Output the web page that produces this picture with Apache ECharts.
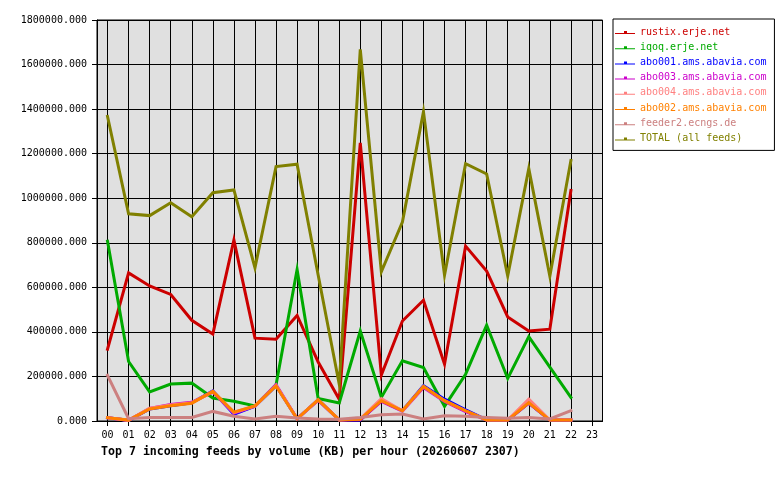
<!DOCTYPE html>
<html>
<head>
<meta charset="utf-8">
<script src="https://cdn.jsdelivr.net/npm/echarts@6/dist/echarts.min.js"></script>
<style>html,body{margin:0;padding:0;background:#fff}#c{width:780px;height:480px}</style>
</head>
<body>
<div id="c"></div>
<script>
const hours = ['00','01','02','03','04','05','06','07','08','09','10','11','12','13','14','15','16','17','18','19','20','21','22','23'];
const feedNames = ['rustix.erje.net','iqoq.erje.net','abo001.ams.abavia.com','abo003.ams.abavia.com','abo004.ams.abavia.com','abo002.ams.abavia.com','feeder2.ecngs.de','TOTAL (all feeds)'];
const rustix  = [322000,665000,606000,568000,452000,390000,812000,372000,367000,474000,265000,98000,1248000,206000,449000,542000,255000,785000,673000,467000,404000,412000,1035000];
const iqoq    = [807000,267000,131000,166000,170000,103000,89000,68000,162000,680000,101000,81000,404000,106000,270000,240000,66000,210000,430000,191000,379000,242000,106000];
const abo001  = [15000,3000,54000,68000,82000,135000,30000,66000,158000,10000,95000,5000,5000,91000,46000,158000,98000,50000,5000,4000,80000,4000,4000];
const abo003  = [15000,3000,56000,74000,84000,130000,35000,66000,163000,10000,93000,5000,6000,88000,44000,150000,88000,42000,5000,4000,80000,4000,4000];
const abo004  = [15000,3000,58000,72000,82000,133000,38000,68000,160000,10000,95000,5000,10000,100000,46000,155000,91000,46000,5000,4000,98000,4000,4000];
const abo002  = [15000,4000,54000,68000,80000,133000,40000,68000,157000,10000,95000,5000,8000,91000,46000,155000,91000,46000,5000,4000,82000,4000,4000];
const feeder2 = [205000,10000,16000,16000,16000,43000,21000,9000,21000,14000,9000,8000,16000,28000,31000,9000,24000,21000,16000,12000,16000,9000,46000];
const total   = [1367000,930000,922000,980000,917000,1025000,1037000,688000,1142000,1153000,655000,165000,1668000,670000,893000,1388000,654000,1155000,1109000,651000,1133000,650000,1169000];
const yMax = 1800000, yStep = 200000;
const titleText = 'Top 7 incoming feeds by volume (KB) per hour (20260607 2307)';

const seriesData = [rustix, iqoq, abo001, abo003, abo004, abo002, feeder2, total];
const colors = ['#cc0000','#00aa00','#0000ff','#cc00cc','#ff8080','#ff8000','#cc8080','#808000'];
const FONT = 'DejaVu Sans Mono';
const icon = 'path://M0,0L0,0M0,5L20,5L20,6L0,6ZM9,3L12,3L12,5L9,5ZM20,8L20,8';

const chart = echarts.init(document.getElementById('c'), null, {renderer:'canvas'});
chart.setOption({
  animation: false,
  backgroundColor: '#ffffff',
  textStyle: {fontFamily: FONT},
  title: {
    text: titleText, left: 101, top: 446, padding: 0,
    textStyle: {fontFamily: FONT, fontWeight: 'bold', fontSize: 11.6, color: '#000'}
  },
  grid: {left: 97, top: 20, right: 177.5, bottom: 59, show: true, backgroundColor: '#e0e0e0', borderColor: '#000', borderWidth: 1},
  legend: {
    orient: 'vertical', left: 613, top: 19, width: 160,
    padding: [7, 8, 6, 2],
    backgroundColor: '#fff', borderColor: '#000', borderWidth: 1, borderRadius: 0,
    itemWidth: 20, itemHeight: 8, itemGap: 3.2,
    textStyle: {fontFamily: FONT, fontSize: 10, lineHeight: 12},
    data: feedNames.map((n, i) => ({name: n, icon: icon, textStyle: {color: colors[i]}})),
    selectedMode: false
  },
  xAxis: {
    type: 'category', data: hours, boundaryGap: true,
    axisLine: {show: true, lineStyle: {color: '#000', width: 1}},
    axisTick: {show: true, alignWithLabel: true, length: 5, lineStyle: {color: '#000'}},
    axisLabel: {color: '#000', fontFamily: FONT, fontSize: 10, margin: 9, interval: 0},
    splitLine: {show: true, alignWithLabel: true, interval: 0, lineStyle: {color: '#000', width: 1}}
  },
  yAxis: {
    type: 'value', min: 0, max: yMax, interval: yStep,
    axisLine: {show: true, lineStyle: {color: '#000', width: 1}},
    axisTick: {show: true, length: 5, lineStyle: {color: '#000'}},
    axisLabel: {color: '#000', fontFamily: FONT, fontSize: 10, margin: 10, formatter: v => v.toFixed(3)},
    splitLine: {show: true, lineStyle: {color: '#000', width: 1}}
  },
  series: feedNames.map((n, i) => ({
    name: n, type: 'line', data: seriesData[i], symbol: 'none', showSymbol: false,
    color: colors[i], lineStyle: {width: 3, color: colors[i], cap: 'square', join: 'miter'},
    z: 2 + i
  }))
});
</script>
</body>
</html>
